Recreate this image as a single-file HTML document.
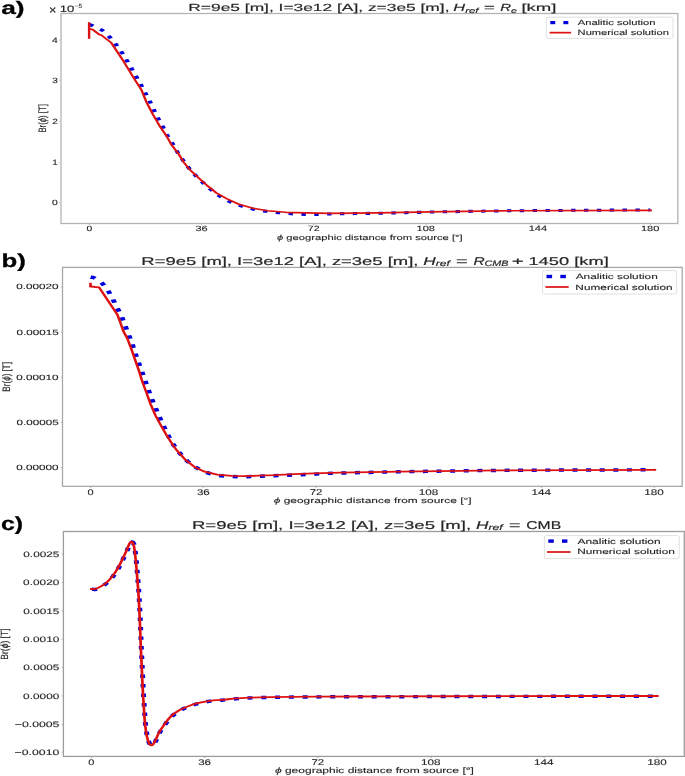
<!DOCTYPE html>
<html><head><meta charset="utf-8"><style>
html,body{margin:0;padding:0;background:#fff;}
svg{display:block;filter:blur(0.45px);}
text{font-family:"Liberation Sans", sans-serif;font-kerning:none;text-rendering:geometricPrecision;}
</style></head><body>
<svg width="685" height="776" viewBox="0 0 685 776">
<rect width="685" height="776" fill="#fff"/>
<g transform="translate(0,13.5) scale(1,0.69)" fill="none">
<path d="M89.30,15.80 C90.33,16.38 91.41,16.89 92.40,17.54 C93.64,18.34 94.78,19.30 96.00,20.14 C98.12,21.62 100.62,22.67 102.40,24.49 C105.29,27.45 107.71,31.00 110.00,34.49 C112.41,38.15 114.43,42.07 116.50,45.94 C118.53,49.75 120.48,53.62 122.30,57.54 C124.11,61.44 125.74,65.44 127.40,69.42 C129.07,73.41 130.69,77.43 132.30,81.45 C133.86,85.35 135.37,89.27 136.90,93.19 C138.47,97.20 140.07,101.19 141.60,105.22 C143.10,109.17 144.54,113.14 146.00,117.10 C147.47,121.11 149.00,125.10 150.40,129.13 C151.80,133.17 153.03,137.26 154.40,141.30 C155.80,145.42 157.18,149.55 158.70,153.62 C160.18,157.62 161.90,161.52 163.40,165.51 C164.90,169.49 166.13,173.58 167.70,177.54 C169.26,181.46 171.17,185.24 172.80,189.13 C174.50,193.21 175.94,197.40 177.70,201.45 C179.38,205.32 181.23,209.12 183.10,212.90 C184.96,216.65 186.82,220.42 188.90,224.06 C190.96,227.67 193.20,231.18 195.50,234.64 C197.90,238.23 200.41,241.76 203.00,245.22 C205.41,248.43 207.90,251.58 210.50,254.64 C213.37,258.01 216.18,261.48 219.40,264.49 C222.54,267.43 226.00,270.10 229.60,272.46 C233.50,275.03 237.67,277.28 241.90,279.28 C245.64,281.04 249.55,282.55 253.50,283.77 C257.51,285.01 261.67,285.86 265.80,286.67 C270.07,287.50 274.39,288.09 278.70,288.70 C282.99,289.30 287.29,289.88 291.60,290.29 C295.92,290.70 300.26,291.01 304.60,291.16 C308.90,291.30 313.20,291.26 317.50,291.16 C321.80,291.06 326.10,290.70 330.40,290.58 C346.93,290.12 363.47,289.88 380.00,289.42 C396.67,288.96 413.33,288.29 430.00,287.83 C453.33,287.18 476.66,286.49 500.00,286.09 C526.66,285.62 553.33,285.47 580.00,285.22 C603.47,284.99 626.93,284.83 650.40,284.64" stroke="#0000dc" stroke-width="4.4" stroke-dasharray="4.40 8.45" stroke-linecap="butt"/>
<path d="M89.30,22.17 L92.80,23.33 L99.30,30.58 L101.50,31.59 L111.30,42.46 L123.80,69.86 L135.50,97.39 L141.50,110.87 L146.60,128.84 L153.10,146.81 L160.40,164.78 L167.00,178.55 L171.40,190.14 L178.70,203.91 L183.80,215.65 L190.40,227.25 L199.00,238.70 L208.20,250.58 L216.30,260.00 L226.60,268.26 L238.80,276.38 L253.10,282.17 L267.40,285.80 L285.80,288.12 L306.30,288.99 L330.00,289.57 L379.60,288.99 L429.30,287.54 L500.00,285.94 L650.80,285.22" stroke="#dd1111" stroke-width="2.4" stroke-linejoin="round" stroke-linecap="square"/>
<path d="M89.10,35.51 L89.10,13.77" stroke="#dd1111" stroke-width="2.4" stroke-linecap="square"/>
</g>
<rect x="546.3" y="17.2" width="126.70" height="21.20" rx="2" ry="1.5" fill="#fff" fill-opacity="0.8" stroke="#dcdcdc" stroke-width="0.9"/>
<rect x="550.3" y="21.0" width="4.90" height="3.20" fill="#0000dc"/>
<rect x="563.4" y="21.0" width="4.90" height="3.20" fill="#0000dc"/>
<rect x="549.6" y="31.80" width="21.50" height="1.7" fill="#dd1111"/>
<rect x="61.0" y="13.5" width="616.80" height="210.00" fill="none" stroke="#b4b4b4" stroke-width="1.3"/>
<line x1="89.30" y1="223.5" x2="89.30" y2="225.10" stroke="#b4b4b4" stroke-width="0.9"/>
<line x1="201.51" y1="223.5" x2="201.51" y2="225.10" stroke="#b4b4b4" stroke-width="0.9"/>
<line x1="313.72" y1="223.5" x2="313.72" y2="225.10" stroke="#b4b4b4" stroke-width="0.9"/>
<line x1="425.94" y1="223.5" x2="425.94" y2="225.10" stroke="#b4b4b4" stroke-width="0.9"/>
<line x1="538.15" y1="223.5" x2="538.15" y2="225.10" stroke="#b4b4b4" stroke-width="0.9"/>
<line x1="650.36" y1="223.5" x2="650.36" y2="225.10" stroke="#b4b4b4" stroke-width="0.9"/>
<line x1="59.20" y1="202.50" x2="61.0" y2="202.50" stroke="#b4b4b4" stroke-width="0.7"/>
<line x1="59.20" y1="162.60" x2="61.0" y2="162.60" stroke="#b4b4b4" stroke-width="0.7"/>
<line x1="59.20" y1="121.60" x2="61.0" y2="121.60" stroke="#b4b4b4" stroke-width="0.7"/>
<line x1="59.20" y1="80.30" x2="61.0" y2="80.30" stroke="#b4b4b4" stroke-width="0.7"/>
<line x1="59.20" y1="40.20" x2="61.0" y2="40.20" stroke="#b4b4b4" stroke-width="0.7"/>
<g transform="translate(0,267.4) scale(1,0.69)" fill="none">
<path d="M90.60,14.20 C91.47,14.40 92.44,14.37 93.20,14.78 C94.74,15.62 96.21,16.75 97.50,17.97 C99.34,19.70 101.24,21.51 102.60,23.62 C105.00,27.35 106.98,31.43 108.80,35.51 C110.65,39.65 112.05,43.99 113.60,48.26 C115.12,52.45 116.56,56.66 118.00,60.87 C119.46,65.11 121.02,69.33 122.30,73.62 C123.58,77.93 124.55,82.32 125.70,86.67 C126.85,90.97 128.06,95.26 129.20,99.57 C130.36,103.95 131.54,108.34 132.60,112.75 C133.64,117.08 134.48,121.46 135.50,125.80 C136.51,130.06 137.63,134.30 138.70,138.55 C139.80,142.90 140.91,147.24 142.00,151.59 C143.11,156.04 144.20,160.48 145.30,164.93 C146.37,169.27 147.40,173.63 148.50,177.97 C149.60,182.28 150.73,186.58 151.90,190.87 C153.06,195.13 154.28,199.38 155.50,203.62 C156.71,207.83 157.91,212.05 159.20,216.23 C160.51,220.50 161.91,224.74 163.30,228.99 C164.74,233.39 166.15,237.81 167.70,242.17 C169.15,246.26 170.58,250.37 172.30,254.35 C174.08,258.44 176.05,262.47 178.20,266.38 C180.41,270.39 182.73,274.40 185.40,278.12 C187.86,281.55 190.52,284.96 193.60,287.83 C196.95,290.95 200.72,293.83 204.70,296.09 C208.55,298.27 212.82,300.04 217.10,301.16 C221.52,302.31 226.22,302.54 230.80,302.90 C235.48,303.26 240.20,303.38 244.90,303.33 C249.70,303.28 254.50,302.86 259.30,302.61 C263.87,302.37 268.43,302.13 273.00,301.88 C277.53,301.64 282.07,301.40 286.60,301.16 C291.17,300.92 295.73,300.68 300.30,300.43 C304.83,300.19 309.37,300.02 313.90,299.71 C318.47,299.39 323.02,298.74 327.60,298.55 C351.72,297.58 375.86,296.84 400.00,296.23 C433.33,295.39 466.66,294.58 500.00,294.20 C551.43,293.62 602.87,293.62 654.30,293.33" stroke="#0000dc" stroke-width="5.0" stroke-dasharray="5.00 8.60" stroke-linecap="butt"/>
<path d="M90.60,27.54 L95.00,28.41 L99.10,28.99 L117.20,67.97 L120.10,78.84 L123.10,91.59 L127.40,103.19 L131.80,120.14 L135.50,135.65 L138.80,148.99 L142.40,165.94 L146.80,182.90 L150.40,197.68 L155.50,214.64 L160.70,228.41 L166.50,243.19 L173.10,257.97 L177.40,266.23 L184.90,278.12 L194.80,289.57 L204.70,296.09 L217.10,300.43 L232.00,302.17 L244.40,302.61 L259.30,301.88 L274.20,301.16 L294.10,299.71 L313.90,298.55 L340.00,297.54 L400.00,295.94 L500.00,294.20 L654.90,293.48" stroke="#dd1111" stroke-width="2.6" stroke-linejoin="round" stroke-linecap="square"/>
<path d="M90.50,23.48 L90.60,27.54" stroke="#dd1111" stroke-width="2.6" stroke-linecap="square"/>
</g>
<rect x="542.6" y="270.6" width="134.00" height="23.40" rx="2" ry="1.5" fill="#fff" fill-opacity="0.8" stroke="#dcdcdc" stroke-width="0.9"/>
<rect x="546.5" y="274.8" width="5.60" height="3.40" fill="#0000dc"/>
<rect x="560.3" y="274.8" width="5.60" height="3.40" fill="#0000dc"/>
<rect x="545.4" y="286.15" width="23.30" height="1.7" fill="#dd1111"/>
<rect x="62.5" y="267.4" width="619.70" height="218.90" fill="none" stroke="#a8a8a8" stroke-width="1.3"/>
<line x1="90.60" y1="486.3" x2="90.60" y2="487.90" stroke="#a8a8a8" stroke-width="0.9"/>
<line x1="203.34" y1="486.3" x2="203.34" y2="487.90" stroke="#a8a8a8" stroke-width="0.9"/>
<line x1="316.08" y1="486.3" x2="316.08" y2="487.90" stroke="#a8a8a8" stroke-width="0.9"/>
<line x1="428.82" y1="486.3" x2="428.82" y2="487.90" stroke="#a8a8a8" stroke-width="0.9"/>
<line x1="541.56" y1="486.3" x2="541.56" y2="487.90" stroke="#a8a8a8" stroke-width="0.9"/>
<line x1="654.31" y1="486.3" x2="654.31" y2="487.90" stroke="#a8a8a8" stroke-width="0.9"/>
<line x1="60.70" y1="286.80" x2="62.5" y2="286.80" stroke="#a8a8a8" stroke-width="0.7"/>
<line x1="60.70" y1="332.20" x2="62.5" y2="332.20" stroke="#a8a8a8" stroke-width="0.7"/>
<line x1="60.70" y1="377.20" x2="62.5" y2="377.20" stroke="#a8a8a8" stroke-width="0.7"/>
<line x1="60.70" y1="422.40" x2="62.5" y2="422.40" stroke="#a8a8a8" stroke-width="0.7"/>
<line x1="60.70" y1="467.60" x2="62.5" y2="467.60" stroke="#a8a8a8" stroke-width="0.7"/>
<g transform="translate(0,531.5) scale(1,0.69)" fill="none">
<path d="M91.90,83.77 C93.17,83.77 94.57,84.21 95.70,83.77 C97.77,82.96 99.74,81.46 101.50,80.00 C103.64,78.23 105.71,76.26 107.40,74.06 C109.61,71.18 111.47,67.98 113.20,64.78 C114.97,61.51 116.50,58.09 117.90,54.64 C119.60,50.45 121.03,46.16 122.50,41.88 C124.13,37.12 125.69,32.34 127.20,27.54 C128.23,24.27 128.88,20.84 130.10,17.68 C130.45,16.78 131.31,15.34 131.90,15.36 C132.51,15.39 133.45,16.86 133.70,17.83 C134.51,20.92 134.77,24.28 135.10,27.54 C135.67,33.17 136.02,38.84 136.40,44.49 C136.85,51.25 137.22,58.02 137.60,64.78 C137.98,71.54 138.38,78.31 138.70,85.07 C139.05,92.36 139.34,99.66 139.60,106.96 C139.94,116.62 140.23,126.28 140.50,135.94 C140.79,146.42 141.00,156.91 141.30,167.39 C141.54,175.85 141.84,184.30 142.10,192.75 C142.34,200.39 142.55,208.02 142.80,215.65 C142.99,221.45 143.17,227.25 143.40,233.04 C143.67,240.05 143.97,247.05 144.30,254.06 C144.73,263.24 144.99,272.44 145.70,281.59 C146.19,287.94 146.79,294.33 147.90,300.58 C148.46,303.75 149.31,307.38 150.70,309.86 C151.04,310.47 152.67,310.41 153.10,309.86 C154.37,308.23 155.01,305.55 155.80,303.33 C157.08,299.75 157.91,296.00 159.30,292.46 C161.01,288.13 163.02,283.89 165.10,279.71 C166.89,276.11 168.56,272.36 170.90,269.13 C173.42,265.65 176.39,262.30 179.70,259.57 C183.22,256.65 187.34,254.32 191.40,252.17 C194.27,250.65 197.41,249.58 200.50,248.55 C203.77,247.46 207.12,246.47 210.50,245.80 C213.95,245.11 217.50,244.92 221.00,244.49 C229.10,243.51 237.18,242.27 245.30,241.59 C253.54,240.91 261.83,240.64 270.10,240.43 C286.66,240.02 303.23,239.85 319.80,239.71 C343.37,239.51 366.93,239.51 390.50,239.42 C427.17,239.27 463.83,239.07 500.50,238.99 C552.93,238.87 605.37,238.89 657.80,238.84" stroke="#0000dc" stroke-width="5.0" stroke-dasharray="5.00 8.80" stroke-linecap="butt"/>
<path d="M91.40,83.33 C92.67,83.33 94.07,83.78 95.20,83.33 C97.27,82.52 99.24,81.03 101.00,79.57 C103.14,77.79 105.21,75.82 106.90,73.62 C109.11,70.75 110.97,67.55 112.70,64.35 C114.47,61.08 116.00,57.65 117.40,54.20 C119.10,50.02 120.53,45.72 122.00,41.45 C123.63,36.69 125.19,31.90 126.70,27.10 C127.73,23.83 128.38,20.40 129.60,17.25 C129.95,16.34 130.81,14.90 131.40,14.93 C132.01,14.95 132.95,16.43 133.20,17.39 C134.01,20.49 134.27,23.85 134.60,27.10 C135.17,32.74 135.52,38.40 135.90,44.06 C136.35,50.82 136.72,57.58 137.10,64.35 C137.48,71.11 137.88,77.87 138.20,84.64 C138.55,91.93 138.84,99.23 139.10,106.52 C139.44,116.18 139.73,125.84 140.00,135.51 C140.29,145.99 140.50,156.47 140.80,166.96 C141.04,175.41 141.34,183.86 141.60,192.32 C141.84,199.95 142.05,207.58 142.30,215.22 C142.49,221.01 142.67,226.81 142.90,232.61 C143.17,239.61 143.47,246.62 143.80,253.62 C144.23,262.80 144.49,272.00 145.20,281.16 C145.69,287.51 146.29,293.89 147.40,300.14 C147.96,303.31 148.81,306.94 150.20,309.42 C150.54,310.03 152.17,309.97 152.60,309.42 C153.87,307.80 154.51,305.11 155.30,302.90 C156.58,299.32 157.41,295.56 158.80,292.03 C160.51,287.69 162.52,283.45 164.60,279.28 C166.39,275.68 168.06,271.93 170.40,268.70 C172.92,265.21 175.89,261.87 179.20,259.13 C182.72,256.22 186.84,253.89 190.90,251.74 C193.77,250.22 196.91,249.15 200.00,248.12 C203.27,247.02 206.62,246.03 210.00,245.36 C213.45,244.68 217.00,244.48 220.50,244.06 C228.60,243.08 236.68,241.83 244.80,241.16 C253.04,240.48 261.33,240.21 269.60,240.00 C286.16,239.58 302.73,239.41 319.30,239.28 C342.87,239.08 366.43,239.08 390.00,238.99 C426.67,238.84 463.33,238.63 500.00,238.55 C552.43,238.44 604.87,238.45 657.30,238.41" stroke="#dd1111" stroke-width="2.7" stroke-linejoin="round" stroke-linecap="square"/>
</g>
<rect x="544.4" y="535.6" width="134.80" height="23.00" rx="2" ry="1.5" fill="#fff" fill-opacity="0.8" stroke="#dcdcdc" stroke-width="0.9"/>
<rect x="548.3" y="539.4" width="5.50" height="3.40" fill="#0000dc"/>
<rect x="562.0" y="539.4" width="5.40" height="3.40" fill="#0000dc"/>
<rect x="547.0" y="551.15" width="23.50" height="1.7" fill="#dd1111"/>
<rect x="63.4" y="531.5" width="620.90" height="224.90" fill="none" stroke="#9c9c9c" stroke-width="1.3"/>
<line x1="91.40" y1="756.4" x2="91.40" y2="758.00" stroke="#9c9c9c" stroke-width="0.9"/>
<line x1="204.58" y1="756.4" x2="204.58" y2="758.00" stroke="#9c9c9c" stroke-width="0.9"/>
<line x1="317.77" y1="756.4" x2="317.77" y2="758.00" stroke="#9c9c9c" stroke-width="0.9"/>
<line x1="430.95" y1="756.4" x2="430.95" y2="758.00" stroke="#9c9c9c" stroke-width="0.9"/>
<line x1="544.14" y1="756.4" x2="544.14" y2="758.00" stroke="#9c9c9c" stroke-width="0.9"/>
<line x1="657.32" y1="756.4" x2="657.32" y2="758.00" stroke="#9c9c9c" stroke-width="0.9"/>
<line x1="61.60" y1="554.20" x2="63.4" y2="554.20" stroke="#9c9c9c" stroke-width="0.7"/>
<line x1="61.60" y1="582.50" x2="63.4" y2="582.50" stroke="#9c9c9c" stroke-width="0.7"/>
<line x1="61.60" y1="610.90" x2="63.4" y2="610.90" stroke="#9c9c9c" stroke-width="0.7"/>
<line x1="61.60" y1="639.20" x2="63.4" y2="639.20" stroke="#9c9c9c" stroke-width="0.7"/>
<line x1="61.60" y1="667.60" x2="63.4" y2="667.60" stroke="#9c9c9c" stroke-width="0.7"/>
<line x1="61.60" y1="695.90" x2="63.4" y2="695.90" stroke="#9c9c9c" stroke-width="0.7"/>
<line x1="61.60" y1="724.30" x2="63.4" y2="724.30" stroke="#9c9c9c" stroke-width="0.7"/>
<line x1="61.60" y1="752.10" x2="63.4" y2="752.10" stroke="#9c9c9c" stroke-width="0.7"/>
<g>
<text transform="matrix(0.263 0 0 0.1809 1.2111 13.9021)" font-size="100" font-weight="bold" font-style="normal" fill="#000" stroke="#000" stroke-width="1.5">a)</text>
<text transform="matrix(0.1273 0 0 0.1205 49.0091 13.525)" font-size="100" font-weight="normal" font-style="normal" fill="#262626" stroke="#262626" stroke-width="1.5">×</text>
<text transform="matrix(0.1323 0 0 0.093 59.7414 12.107)" font-size="100" font-weight="normal" font-style="normal" fill="#262626" stroke="#262626" stroke-width="1.5">10</text>
<text transform="matrix(0.0657 0 0 0.06 74.5714 8.44)" font-size="100" font-weight="normal" font-style="normal" fill="#262626" stroke="#262626" stroke-width="1.5">−5</text>
<text transform="matrix(0.1737 0 0 0.1032 188.3104 11.1)" font-size="100" font-weight="normal" font-style="normal" fill="#262626" stroke="#262626" stroke-width="1.5">R=9e5 [m], I=3e12 [A], z=3e5 [m],</text>
<text transform="matrix(0.1637 0 0 0.1032 453.3089 11.1)" font-size="100" font-weight="normal" font-style="normal" fill="#262626" stroke="#262626" stroke-width="1.5"><tspan font-style="italic">H</tspan><tspan font-style="italic" font-size="70" dy="14.6">ref</tspan></text>
<text transform="matrix(0.1837 0 0 0.1032 484.0816 11.1)" font-size="100" font-weight="normal" font-style="normal" fill="#262626" stroke="#262626" stroke-width="1.5">=</text>
<text transform="matrix(0.1491 0 0 0.1032 500.2528 11.1)" font-size="100" font-weight="normal" font-style="normal" fill="#262626" stroke="#262626" stroke-width="1.5"><tspan font-style="italic">R</tspan><tspan font-style="italic" font-size="70" dy="14.6">e</tspan></text>
<text transform="matrix(0.1851 0 0 0.1032 521.404 11.1)" font-size="100" font-weight="normal" font-style="normal" fill="#262626" stroke="#262626" stroke-width="1.5">[km]</text>
<text transform="matrix(0.1039 0 0 0.0761 51.9956 205.1239)" font-size="100" font-weight="normal" font-style="normal" fill="#262626" stroke="#262626" stroke-width="1.5">0</text>
<text transform="matrix(0.0999 0 0 0.0783 52.3031 165.3)" font-size="100" font-weight="normal" font-style="normal" fill="#262626" stroke="#262626" stroke-width="1.5">1</text>
<text transform="matrix(0.0996 0 0 0.0771 52.3193 124.3)" font-size="100" font-weight="normal" font-style="normal" fill="#262626" stroke="#262626" stroke-width="1.5">2</text>
<text transform="matrix(0.1011 0 0 0.0761 52.2438 82.9239)" font-size="100" font-weight="normal" font-style="normal" fill="#262626" stroke="#262626" stroke-width="1.5">3</text>
<text transform="matrix(0.1031 0 0 0.0783 51.9344 42.9)" font-size="100" font-weight="normal" font-style="normal" fill="#262626" stroke="#262626" stroke-width="1.5">4</text>
<text transform="matrix(0.1039 0 0 0.0761 86.3899 231.0239)" font-size="100" font-weight="normal" font-style="normal" fill="#262626" stroke="#262626" stroke-width="1.5">0</text>
<text transform="matrix(0.1089 0 0 0.0761 195.4664 231.0239)" font-size="100" font-weight="normal" font-style="normal" fill="#262626" stroke="#262626" stroke-width="1.5">36</text>
<text transform="matrix(0.1069 0 0 0.0771 307.7925 231.1)" font-size="100" font-weight="normal" font-style="normal" fill="#262626" stroke="#262626" stroke-width="1.5">72</text>
<text transform="matrix(0.1105 0 0 0.0761 416.486 231.0239)" font-size="100" font-weight="normal" font-style="normal" fill="#262626" stroke="#262626" stroke-width="1.5">108</text>
<text transform="matrix(0.1106 0 0 0.0783 528.637 231.1)" font-size="100" font-weight="normal" font-style="normal" fill="#262626" stroke="#262626" stroke-width="1.5">144</text>
<text transform="matrix(0.1107 0 0 0.0761 640.8993 231.0239)" font-size="100" font-weight="normal" font-style="normal" fill="#262626" stroke="#262626" stroke-width="1.5">180</text>
<text transform="matrix(0.112 0 0 0.0745 276.9641 240.1362)" font-size="100" font-weight="normal" font-style="normal" fill="#262626" stroke="#262626" stroke-width="1.5"><tspan font-style="italic">ϕ</tspan> geographic distance from source [°]</text>
<text transform="matrix(0 -0.0776 0.1074 0 45.9436 132.6205)" font-size="100" font-weight="normal" font-style="normal" fill="#262626" stroke="#262626" stroke-width="1.5">Br(<tspan font-style="italic">ϕ</tspan>) [T]</text>
<text transform="matrix(0.1119 0 0 0.0741 577.7 24.7)" font-size="100" font-weight="normal" font-style="normal" fill="#262626" stroke="#262626" stroke-width="1.5">Analitic solution</text>
<text transform="matrix(0.111 0 0 0.0756 577.6119 35)" font-size="100" font-weight="normal" font-style="normal" fill="#262626" stroke="#262626" stroke-width="1.5">Numerical solution</text>
<text transform="matrix(0.2578 0 0 0.1862 1.553 266.6904)" font-size="100" font-weight="bold" font-style="normal" fill="#000" stroke="#000" stroke-width="1.5">b)</text>
<text transform="matrix(0.1843 0 0 0.1134 141.3254 265.1)" font-size="100" font-weight="normal" font-style="normal" fill="#262626" stroke="#262626" stroke-width="1.5">R=9e5 [m], I=3e12 [A], z=3e5 [m],</text>
<text transform="matrix(0.1726 0 0 0.1134 423.2822 265.1)" font-size="100" font-weight="normal" font-style="normal" fill="#262626" stroke="#262626" stroke-width="1.5"><tspan font-style="italic">H</tspan><tspan font-style="italic" font-size="70" dy="10">ref</tspan></text>
<text transform="matrix(0.2 0 0 0.1134 455.9 265.1)" font-size="100" font-weight="normal" font-style="normal" fill="#262626" stroke="#262626" stroke-width="1.5">=</text>
<text transform="matrix(0.1541 0 0 0.1134 473.4378 265.1)" font-size="100" font-weight="normal" font-style="normal" fill="#262626" stroke="#262626" stroke-width="1.5"><tspan font-style="italic">R</tspan><tspan font-style="italic" font-size="70" dy="10">CMB</tspan></text>
<text transform="matrix(0.2061 0 0 0.1134 511.8694 265.1)" font-size="100" font-weight="normal" font-style="normal" fill="#262626" stroke="#262626" stroke-width="1.5">+</text>
<text transform="matrix(0.1828 0 0 0.1134 528.4377 265.1)" font-size="100" font-weight="normal" font-style="normal" fill="#262626" stroke="#262626" stroke-width="1.5">1450 [km]</text>
<text transform="matrix(0.1169 0 0 0.0761 16.342 289.4239)" font-size="100" font-weight="normal" font-style="normal" fill="#262626" stroke="#262626" stroke-width="1.5">0.00020</text>
<text transform="matrix(0.1166 0 0 0.0761 16.5603 334.8239)" font-size="100" font-weight="normal" font-style="normal" fill="#262626" stroke="#262626" stroke-width="1.5">0.00015</text>
<text transform="matrix(0.1169 0 0 0.0761 16.342 379.8239)" font-size="100" font-weight="normal" font-style="normal" fill="#262626" stroke="#262626" stroke-width="1.5">0.00010</text>
<text transform="matrix(0.1166 0 0 0.0761 16.5603 425.0239)" font-size="100" font-weight="normal" font-style="normal" fill="#262626" stroke="#262626" stroke-width="1.5">0.00005</text>
<text transform="matrix(0.1169 0 0 0.0761 16.342 470.2239)" font-size="100" font-weight="normal" font-style="normal" fill="#262626" stroke="#262626" stroke-width="1.5">0.00000</text>
<text transform="matrix(0.1102 0 0 0.0817 87.5136 494.5183)" font-size="100" font-weight="normal" font-style="normal" fill="#262626" stroke="#262626" stroke-width="1.5">0</text>
<text transform="matrix(0.1155 0 0 0.0817 196.9292 494.5183)" font-size="100" font-weight="normal" font-style="normal" fill="#262626" stroke="#262626" stroke-width="1.5">36</text>
<text transform="matrix(0.1134 0 0 0.0829 309.7914 494.6)" font-size="100" font-weight="normal" font-style="normal" fill="#262626" stroke="#262626" stroke-width="1.5">72</text>
<text transform="matrix(0.1172 0 0 0.0817 418.8008 494.5183)" font-size="100" font-weight="normal" font-style="normal" fill="#262626" stroke="#262626" stroke-width="1.5">108</text>
<text transform="matrix(0.1173 0 0 0.0841 531.4774 494.6)" font-size="100" font-weight="normal" font-style="normal" fill="#262626" stroke="#262626" stroke-width="1.5">144</text>
<text transform="matrix(0.1174 0 0 0.0817 644.2719 494.5183)" font-size="100" font-weight="normal" font-style="normal" fill="#262626" stroke="#262626" stroke-width="1.5">180</text>
<text transform="matrix(0.1194 0 0 0.0766 273.7419 503.2915)" font-size="100" font-weight="normal" font-style="normal" fill="#262626" stroke="#262626" stroke-width="1.5"><tspan font-style="italic">ϕ</tspan> geographic distance from source [°]</text>
<text transform="matrix(0 -0.081 0.1085 0 9.9213 391.6477)" font-size="100" font-weight="normal" font-style="normal" fill="#262626" stroke="#262626" stroke-width="1.5">Br(<tspan font-style="italic">ϕ</tspan>) [T]</text>
<text transform="matrix(0.118 0 0 0.0756 575.7 278.9)" font-size="100" font-weight="normal" font-style="normal" fill="#262626" stroke="#262626" stroke-width="1.5">Analitic solution</text>
<text transform="matrix(0.1182 0 0 0.077 575.3545 289.5)" font-size="100" font-weight="normal" font-style="normal" fill="#262626" stroke="#262626" stroke-width="1.5">Numerical solution</text>
<text transform="matrix(0.2487 0 0 0.1894 1.005 529.7234)" font-size="100" font-weight="bold" font-style="normal" fill="#000" stroke="#000" stroke-width="1.5">c)</text>
<text transform="matrix(0.1857 0 0 0.1134 191.9146 529.1)" font-size="100" font-weight="normal" font-style="normal" fill="#262626" stroke="#262626" stroke-width="1.5">R=9e5 [m], I=3e12 [A], z=3e5 [m],</text>
<text transform="matrix(0.1726 0 0 0.1134 476.0822 529.1)" font-size="100" font-weight="normal" font-style="normal" fill="#262626" stroke="#262626" stroke-width="1.5"><tspan font-style="italic">H</tspan><tspan font-style="italic" font-size="70" dy="12">ref</tspan></text>
<text transform="matrix(0.1959 0 0 0.1134 508.9204 529.1)" font-size="100" font-weight="normal" font-style="normal" fill="#262626" stroke="#262626" stroke-width="1.5">=</text>
<text transform="matrix(0.1571 0 0 0.1134 526.2146 529.1)" font-size="100" font-weight="normal" font-style="normal" fill="#262626" stroke="#262626" stroke-width="1.5">CMB</text>
<text transform="matrix(0.1179 0 0 0.0789 23.2986 556.9211)" font-size="100" font-weight="normal" font-style="normal" fill="#262626" stroke="#262626" stroke-width="1.5">0.0025</text>
<text transform="matrix(0.1186 0 0 0.0789 23.0752 585.2211)" font-size="100" font-weight="normal" font-style="normal" fill="#262626" stroke="#262626" stroke-width="1.5">0.0020</text>
<text transform="matrix(0.1179 0 0 0.0789 23.2986 613.6211)" font-size="100" font-weight="normal" font-style="normal" fill="#262626" stroke="#262626" stroke-width="1.5">0.0015</text>
<text transform="matrix(0.1186 0 0 0.0789 23.0752 641.9211)" font-size="100" font-weight="normal" font-style="normal" fill="#262626" stroke="#262626" stroke-width="1.5">0.0010</text>
<text transform="matrix(0.1179 0 0 0.0789 23.2986 670.3211)" font-size="100" font-weight="normal" font-style="normal" fill="#262626" stroke="#262626" stroke-width="1.5">0.0005</text>
<text transform="matrix(0.1186 0 0 0.0789 23.0752 698.6211)" font-size="100" font-weight="normal" font-style="normal" fill="#262626" stroke="#262626" stroke-width="1.5">0.0000</text>
<text transform="matrix(0.1226 0 0 0.0789 14.7799 727.0211)" font-size="100" font-weight="normal" font-style="normal" fill="#262626" stroke="#262626" stroke-width="1.5">−0.0005</text>
<text transform="matrix(0.1228 0 0 0.0789 14.5581 754.8211)" font-size="100" font-weight="normal" font-style="normal" fill="#262626" stroke="#262626" stroke-width="1.5">−0.0010</text>
<text transform="matrix(0.1102 0 0 0.0817 88.3136 764.5183)" font-size="100" font-weight="normal" font-style="normal" fill="#262626" stroke="#262626" stroke-width="1.5">0</text>
<text transform="matrix(0.1155 0 0 0.0817 198.172 764.5183)" font-size="100" font-weight="normal" font-style="normal" fill="#262626" stroke="#262626" stroke-width="1.5">36</text>
<text transform="matrix(0.1134 0 0 0.0829 311.477 764.6)" font-size="100" font-weight="normal" font-style="normal" fill="#262626" stroke="#262626" stroke-width="1.5">72</text>
<text transform="matrix(0.1172 0 0 0.0817 420.9292 764.5183)" font-size="100" font-weight="normal" font-style="normal" fill="#262626" stroke="#262626" stroke-width="1.5">108</text>
<text transform="matrix(0.1173 0 0 0.0841 534.0486 764.6)" font-size="100" font-weight="normal" font-style="normal" fill="#262626" stroke="#262626" stroke-width="1.5">144</text>
<text transform="matrix(0.1174 0 0 0.0817 647.2859 764.5183)" font-size="100" font-weight="normal" font-style="normal" fill="#262626" stroke="#262626" stroke-width="1.5">180</text>
<text transform="matrix(0.12 0 0 0.0777 274.9401 773.3691)" font-size="100" font-weight="normal" font-style="normal" fill="#262626" stroke="#262626" stroke-width="1.5"><tspan font-style="italic">ϕ</tspan> geographic distance from source [°]</text>
<text transform="matrix(0 -0.0852 0.1032 0 8.133 659.6818)" font-size="100" font-weight="normal" font-style="normal" fill="#262626" stroke="#262626" stroke-width="1.5">Br(<tspan font-style="italic">ϕ</tspan>) [T]</text>
<text transform="matrix(0.1199 0 0 0.077 577.4 543.6)" font-size="100" font-weight="normal" font-style="normal" fill="#262626" stroke="#262626" stroke-width="1.5">Analitic solution</text>
<text transform="matrix(0.1189 0 0 0.0756 577.1485 554.3)" font-size="100" font-weight="normal" font-style="normal" fill="#262626" stroke="#262626" stroke-width="1.5">Numerical solution</text>
</g>
</svg>
</body></html>
